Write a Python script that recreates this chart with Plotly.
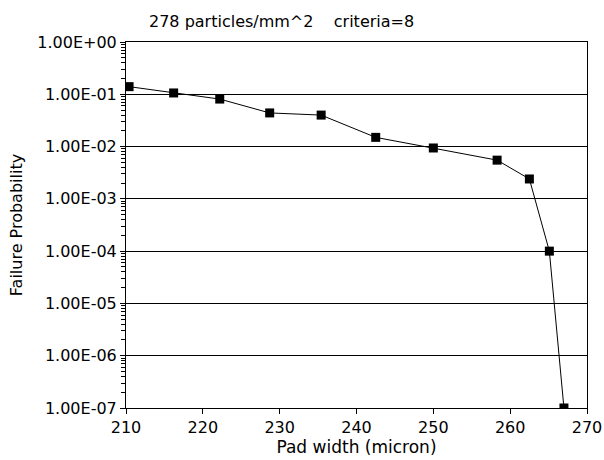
import plotly.graph_objects as go

pad_width = [210.4, 216.2, 222.2, 228.7, 235.4, 242.5, 250.0, 258.3, 262.5, 265.1, 267.0]
failure_prob = [0.14, 0.106, 0.081, 0.044, 0.040, 0.015, 0.0094, 0.0055, 0.0024, 1.0e-4, 1.0e-7]

y_tickvals = [1e0, 1e-1, 1e-2, 1e-3, 1e-4, 1e-5, 1e-6, 1e-7]
y_ticktext = ["1.00E+00", "1.00E-01", "1.00E-02", "1.00E-03", "1.00E-04", "1.00E-05", "1.00E-06", "1.00E-07"]
x_tickvals = [210, 220, 230, 240, 250, 260, 270]
y_minor_vals = [k * 10.0 ** e for e in range(-7, 0) for k in range(2, 10)]

font_family = "DejaVu Sans, Liberation Sans, sans-serif"

fig = go.Figure()
fig.add_trace(go.Scatter(
    x=pad_width, y=failure_prob, mode="lines+markers",
    line=dict(color="black", width=1),
    marker=dict(symbol="square", size=9, color="black"),
    showlegend=False,
))
# helper trace on the minor-tick axis (drawn with no visible marks)
fig.add_trace(go.Scatter(
    x=pad_width, y=failure_prob, yaxis="y2", mode="markers",
    marker=dict(size=1, opacity=0), hoverinfo="skip", showlegend=False,
))

fig.update_layout(
    width=604, height=460,
    margin=dict(l=126, r=17, t=42, b=52, autoexpand=False),
    paper_bgcolor="white", plot_bgcolor="white",
    font=dict(family=font_family, size=15, color="black"),
    annotations=[dict(
        text="278 particles/mm^2    criteria=8",
        xref="paper", yref="paper", x=0.338, y=1.0, yshift=9,
        xanchor="center", yanchor="bottom", showarrow=False,
        font=dict(size=16, family=font_family, color="black"),
    )],
    yaxis=dict(
        type="log", range=[-7, 0], automargin=False,
        tickmode="array", tickvals=y_tickvals, ticktext=y_ticktext,
        showgrid=True, gridcolor="black", gridwidth=1,
        showline=True, linecolor="black", linewidth=1, mirror=True,
        ticks="outside", ticklen=5, tickcolor="black", tickwidth=1,
        tickfont=dict(size=16),
        title=dict(text="Failure Probability", standoff=10, font=dict(size=16)),
        zeroline=False,
    ),
    yaxis2=dict(
        type="log", range=[-7, 0], overlaying="y", side="left", anchor="x",
        tickmode="array", tickvals=y_minor_vals,
        ticktext=[""] * len(y_minor_vals),
        ticks="outside", ticklen=4, tickwidth=1, tickcolor="black",
        showgrid=False, showline=False, zeroline=False, automargin=False,
    ),
)

fig.update_xaxes(
    range=[210, 270], tickvals=x_tickvals, automargin=False,
    showgrid=False, showline=True, linecolor="black", linewidth=1,
    mirror=True, ticks="outside", ticklen=5, tickcolor="black",
    tickfont=dict(size=16),
    title=dict(text="Pad width (micron)", standoff=4, font=dict(size=17)),
    zeroline=False,
)

fig.write_html("out.html", config={"displayModeBar": False})

with open("out.html", "r", encoding="utf-8") as f:
    html = f.read()
html = html.replace("<head>", "<head><style>html,body{margin:0;padding:0;}</style>", 1)
with open("out.html", "w", encoding="utf-8") as f:
    f.write(html)
